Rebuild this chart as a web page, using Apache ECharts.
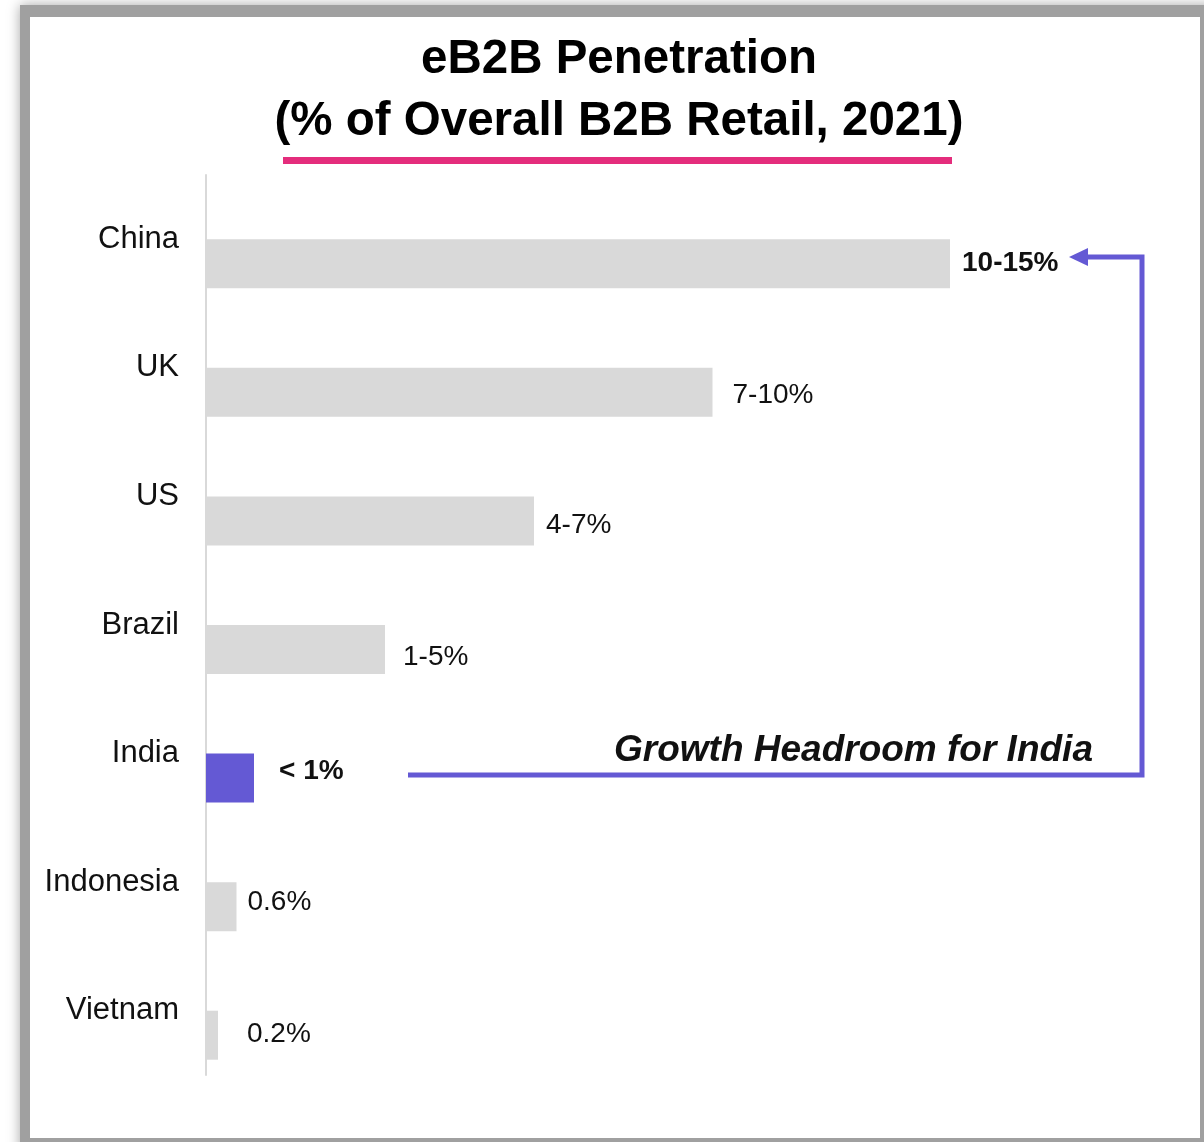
<!DOCTYPE html>
<html>
<head>
<meta charset="utf-8">
<script src="https://cdn.jsdelivr.net/npm/echarts@6/dist/echarts.min.js"></script>
<style>
  html, body { margin: 0; padding: 0; background: #ffffff; }
  #chart { width: 1204px; height: 1142px; }
</style>
</head>
<body>
<div id="chart"></div>
<script>
// ---- data ----
const categories = ['China', 'UK', 'US', 'Brazil', 'India', 'Indonesia', 'Vietnam'];
const values = [14.88, 10.13, 6.56, 3.58, 0.96, 0.61, 0.24];
const valueLabels = ['10-15%', '7-10%', '4-7%', '1-5%', '< 1%', '0.6%', '0.2%'];
const highlighted = ['India'];
const boldLabels = ['China', 'India'];
const titleLines = ['eB2B Penetration', '(% of Overall B2B Retail, 2021)'];
const annotationText = 'Growth Headroom for India';

// ---- styling ----
const FONT = "'Liberation Sans', Arial, Helvetica, sans-serif";
const GREY = '#d9d9d9';
const PURPLE = '#6459d4';
const PINK = '#e42d7c';
const labelOffsets = [[12, -1], [20, 3], [12, 4], [18, 8], [25, -7], [11, -4], [29, -1]];

const chart = echarts.init(document.getElementById('chart'), null, { renderer: 'canvas' });

const barData = values.map((v, i) => ({
  value: v,
  itemStyle: { color: highlighted.includes(categories[i]) ? PURPLE : GREY },
  label: {
    show: true,
    position: 'right',
    distance: 0,
    offset: labelOffsets[i],
    formatter: valueLabels[i],
    fontFamily: FONT,
    fontSize: 28,
    color: '#111111',
    fontWeight: boldLabels.includes(categories[i]) ? 'bold' : 'normal'
  }
}));

chart.setOption({
  animation: false,
  backgroundColor: '#ffffff',
  grid: { left: 206, top: 175, bottom: 67, right: 98, containLabel: false },
  xAxis: { type: 'value', min: 0, max: 18, show: false },
  yAxis: {
    type: 'category',
    inverse: true,
    data: categories,
    axisTick: { show: false },
    axisLine: { show: true, lineStyle: { color: GREY, width: 2 } },
    axisLabel: { fontFamily: FONT, fontSize: 31, color: '#111111', margin: 27 },
    splitLine: { show: false }
  },
  series: [
    {
      type: 'bar',
      name: 'spacer',
      data: categories.map(() => '-'),
      barWidth: 49,
      barGap: 0,
      silent: true,
      itemStyle: { color: 'rgba(0,0,0,0)' }
    },
    {
      type: 'bar',
      name: 'eB2B penetration',
      data: barData,
      barWidth: 49,
      barGap: 0
    }
  ],
  graphic: [
    // frame shadow / border
    {
      type: 'rect', z: -10, silent: true,
      shape: { x: 20, y: 5, width: 1200, height: 1150 },
      style: { fill: '#a0a0a0', shadowBlur: 12, shadowColor: 'rgba(0,0,0,0.35)' }
    },
    {
      type: 'rect', z: -9, silent: true,
      shape: { x: 30, y: 17, width: 1170, height: 1121 },
      style: { fill: '#ffffff' }
    },
    // title
    {
      type: 'text', silent: true, z: 10,
      x: 619, y: 29,
      style: {
        text: titleLines.join('\n'),
        align: 'center', verticalAlign: 'top',
        fontFamily: FONT, fontSize: 47.5, fontWeight: 'bold',
        lineHeight: 62, fill: '#000000'
      }
    },
    // pink underline
    {
      type: 'rect', silent: true, z: 10,
      shape: { x: 283, y: 157, width: 669, height: 7 },
      style: { fill: PINK }
    },
    // arrow connector
    {
      type: 'polyline', silent: true, z: 10,
      shape: { points: [[408, 775], [1142, 775], [1142, 257], [1082, 257]] },
      style: { stroke: PURPLE, lineWidth: 5, fill: null, lineJoin: 'miter' }
    },
    {
      type: 'polygon', silent: true, z: 10,
      shape: { points: [[1069, 257], [1088, 248], [1088, 266]] },
      style: { fill: PURPLE }
    },
    // annotation text
    {
      type: 'text', silent: true, z: 10,
      x: 614, y: 751,
      style: {
        text: annotationText,
        align: 'left', verticalAlign: 'middle',
        fontFamily: FONT, fontSize: 37, fontWeight: 'bold', fontStyle: 'italic',
        fill: '#111111'
      }
    }
  ]
});
</script>
</body>
</html>
